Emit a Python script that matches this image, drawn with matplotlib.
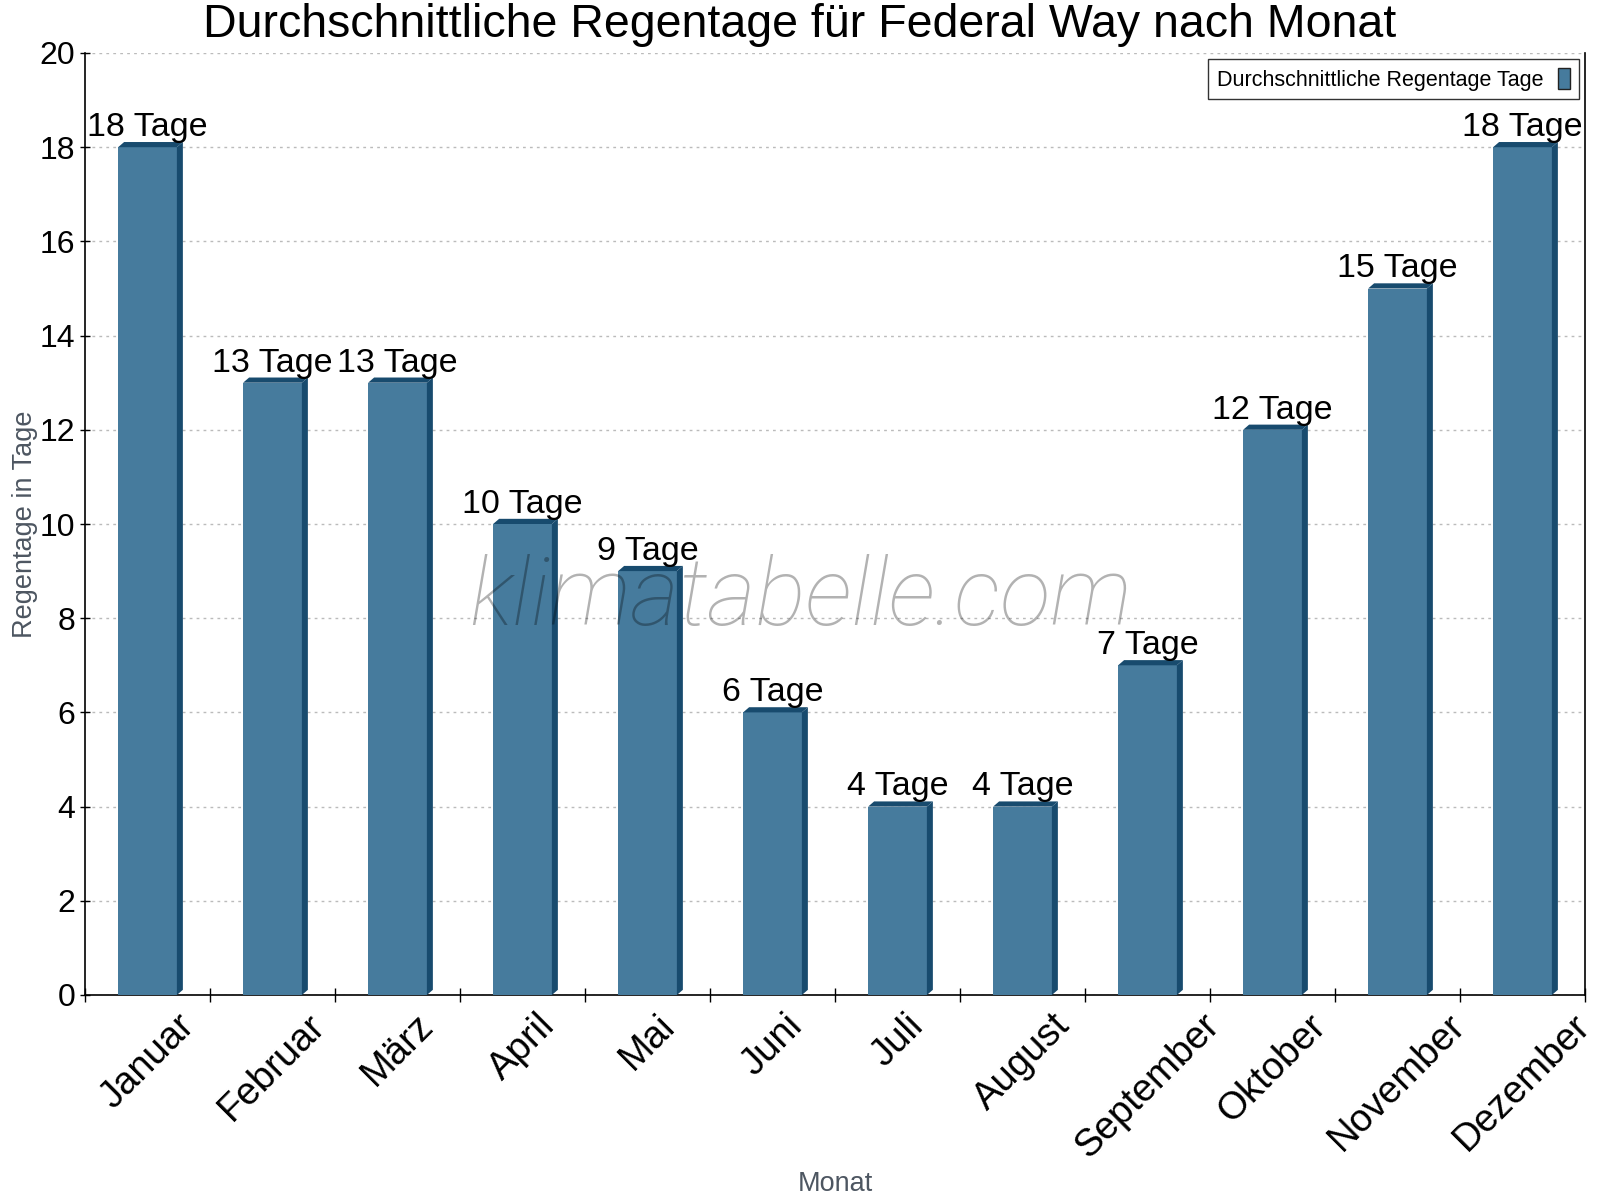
import numpy as np
import matplotlib
matplotlib.use('Agg')
import matplotlib.pyplot as plt
from matplotlib.patches import Polygon, Patch

plt.rcParams['font.family'] = ['Liberation Sans', 'DejaVu Sans']

# Data
months = ['Januar', 'Februar', 'März', 'April', 'Mai', 'Juni', 'Juli',
          'August', 'September', 'Oktober', 'November', 'Dezember']
rain_days = [18, 13, 13, 10, 9, 6, 4, 4, 7, 12, 15, 18]
value_labels = [f'{v} Tage' for v in rain_days]
y_ticks = list(range(0, 21, 2))

front = '#467b9d'
dark = '#184b6e'

fig = plt.figure(figsize=(16, 12), dpi=100)
fig.subplots_adjust(left=85 / 1600, right=1585 / 1600,
                    top=1 - 53 / 1200, bottom=1 - 995 / 1200)
ax = fig.add_subplot(111)

x = np.arange(len(months))
width = 0.47
ax.bar(x, rain_days, width=width, color=front, zorder=3)

# fake 3D: side and top faces
dx, dy = 0.048, 0.11
for xi, v in zip(x, rain_days):
    x0, x1 = xi - width / 2, xi + width / 2
    side = Polygon([(x1, 0), (x1 + dx, dy), (x1 + dx, v + dy), (x1, v)],
                   closed=True, facecolor=dark, edgecolor='none', zorder=3)
    top = Polygon([(x0, v), (x0 + dx, v + dy), (x1 + dx, v + dy), (x1, v)],
                  closed=True, facecolor=dark, edgecolor='none', zorder=3)
    ax.add_patch(side)
    ax.add_patch(top)

for xi, v, lab in zip(x, rain_days, value_labels):
    ax.annotate(lab, (xi, v), xytext=(0, 8), textcoords='offset points',
                ha='center', va='baseline', fontsize=24.5, color='black', zorder=5)

ax.set_xlim(-0.5, len(months) - 0.5)
ax.set_ylim(0, 20)
ax.set_yticks(y_ticks)
ax.tick_params(axis='y', labelsize=23, direction='inout', length=7, width=1)

ax.set_xticks(x)
ax.set_xticklabels(months, rotation=45, ha='center', fontsize=27.5)
ax.tick_params(axis='x', which='major', length=0, pad=9)
ax.set_xticks(np.arange(-0.5, len(months)), minor=True)
ax.tick_params(axis='x', which='minor', direction='inout', length=10, width=1)

ax.grid(axis='y', linestyle=(0, (2, 3)), color='#bbbbbb', linewidth=1, zorder=0)
ax.spines['top'].set_visible(False)
for s in ['left', 'bottom', 'right']:
    ax.spines[s].set_linewidth(1.2)

fig.text(0.5, 1 - 25 / 1200, 'Durchschnittliche Regentage für Federal Way nach Monat',
         fontsize=33.5, ha='center', va='center')
ax.set_ylabel('Regentage in Tage', fontsize=19.5, color='#4d5661', labelpad=1)
ax.set_xlabel('Monat', fontsize=19.5, color='#4d5661', labelpad=4)

ax.text(0.4767, 0.393, 'klimatabelle.com', transform=ax.transAxes,
        fontsize=67.5, family='Roboto', fontweight='light', style='italic',
        color='black', alpha=0.3, ha='center', va='baseline', zorder=6)

handle = Patch(facecolor=front, edgecolor='#222222', linewidth=1)
leg = ax.legend([handle], ['Durchschnittliche Regentage Tage'], loc='upper right',
                fontsize=15.5, frameon=True, fancybox=False, markerfirst=False,
                handlelength=0.55, handleheight=1.1, borderaxespad=0.3,
                handletextpad=0.7, borderpad=0.4)
leg.get_frame().set_edgecolor('black')
leg.get_frame().set_linewidth(1)
leg.set_zorder(7)

fig.savefig('out.png', dpi=100)
